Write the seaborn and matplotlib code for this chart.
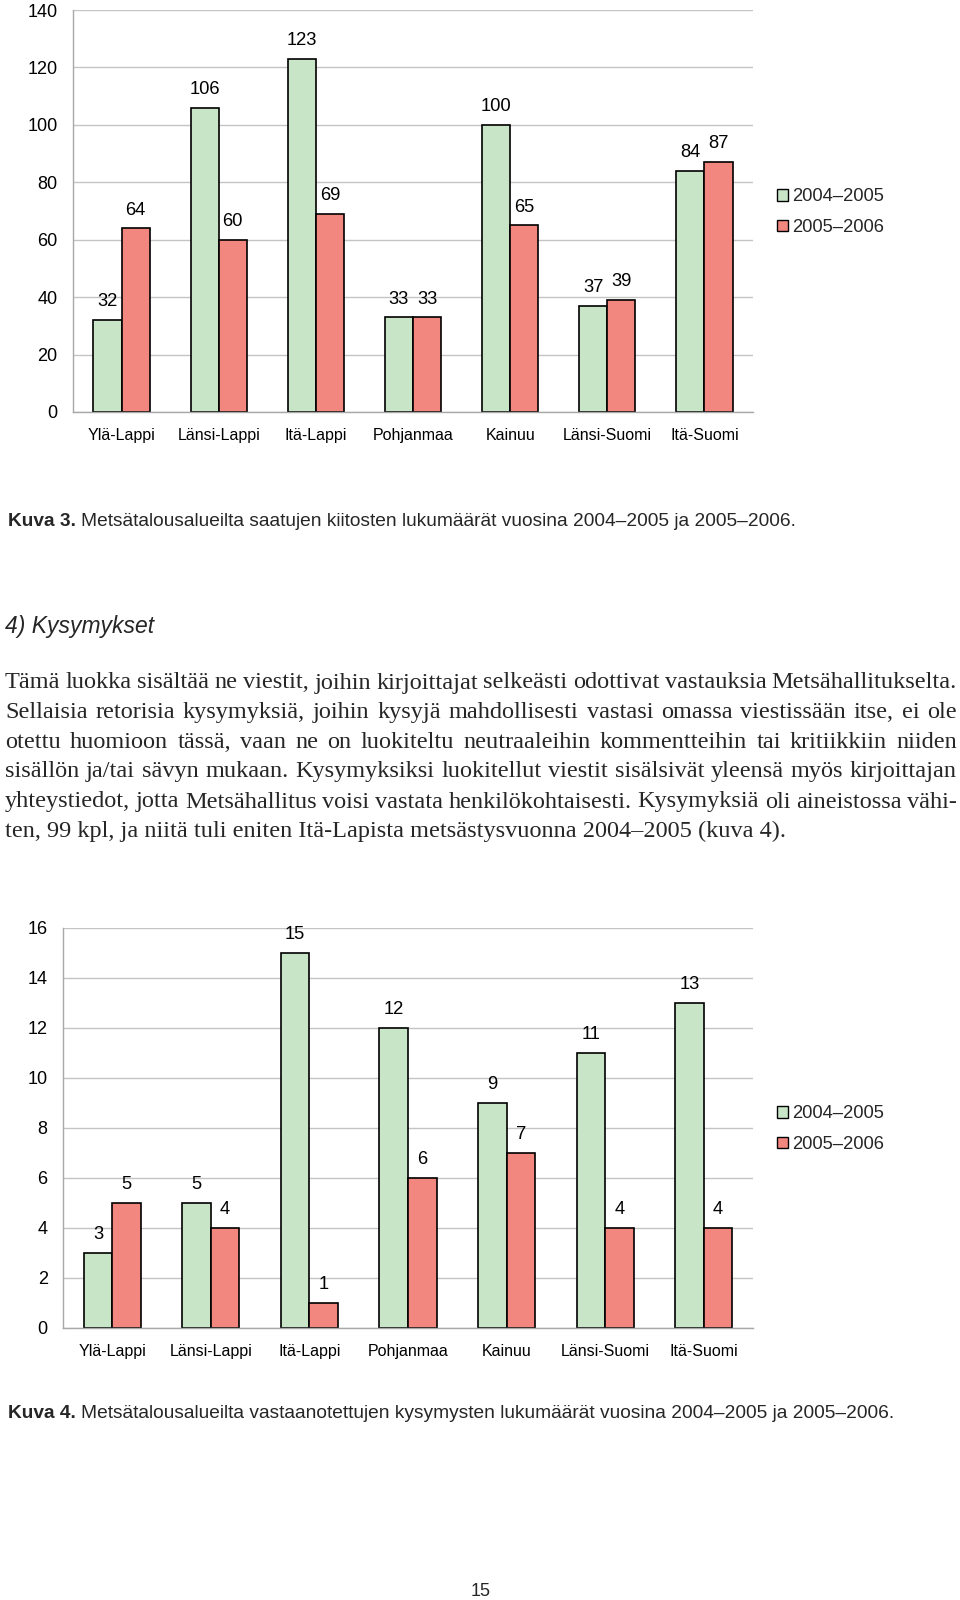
import matplotlib
matplotlib.use("Agg")
import matplotlib.pyplot as plt
import seaborn as sns
import pandas as pd
import numpy as np

# ---------------- data ----------------
regions = ["Ylä-Lappi", "Länsi-Lappi", "Itä-Lappi", "Pohjanmaa", "Kainuu", "Länsi-Suomi", "Itä-Suomi"]
periods = ["2004–2005", "2005–2006"]
thanks_2004_2005 = [32, 106, 123, 33, 100, 37, 84]
thanks_2005_2006 = [64, 60, 69, 33, 65, 39, 87]
questions_2004_2005 = [3, 5, 15, 12, 9, 11, 13]
questions_2005_2006 = [5, 4, 1, 6, 7, 4, 4]
thanks_ticks = [0, 20, 40, 60, 80, 100, 120, 140]
questions_ticks = [0, 2, 4, 6, 8, 10, 12, 14, 16]

caption3_bold = "Kuva 3."
caption3_text = "Metsätalousalueilta saatujen kiitosten lukumäärät vuosina 2004–2005 ja 2005–2006."
caption4_bold = "Kuva 4."
caption4_text = "Metsätalousalueilta vastaanotettujen kysymysten lukumäärät vuosina 2004–2005 ja 2005–2006."
heading = "4) Kysymykset"
paragraph_lines = [
    "Tämä luokka sisältää ne viestit, joihin kirjoittajat selkeästi odottivat vastauksia Metsähallitukselta.",
    "Sellaisia retorisia kysymyksiä, joihin kysyjä mahdollisesti vastasi omassa viestissään itse, ei ole",
    "otettu huomioon tässä, vaan ne on luokiteltu neutraaleihin kommentteihin tai kritiikkiin niiden",
    "sisällön ja/tai sävyn mukaan. Kysymyksiksi luokitellut viestit sisälsivät yleensä myös kirjoittajan",
    "yhteystiedot, jotta Metsähallitus voisi vastata henkilökohtaisesti. Kysymyksiä oli aineistossa vähi-",
    "ten, 99 kpl, ja niitä tuli eniten Itä-Lapista metsästysvuonna 2004–2005 (kuva 4).",
]
page_number = "15"

# ---------------- style ----------------
sns.set_style("white")
plt.rcParams["font.family"] = ["Liberation Sans", "DejaVu Sans"]

GREEN = "#c8e5c8"
RED = "#f2877f"
GRID = "#c4c4c4"
AXC = "#a8a8a8"

W, H = 960, 1600
fig = plt.figure(figsize=(W / 100, H / 100), dpi=100)


def px_axes(left, top, right, bottom):
    return fig.add_axes([left / W, 1 - bottom / H, (right - left) / W, (bottom - top) / H])


def draw_chart(ax, v1, v2, ticks, legend_y):
    df = pd.DataFrame({
        "region": regions * 2,
        "period": [periods[0]] * len(regions) + [periods[1]] * len(regions),
        "value": list(v1) + list(v2),
    })
    sns.barplot(data=df, x="region", y="value", hue="period", order=regions,
                hue_order=periods, palette=[GREEN, RED], edgecolor="black",
                linewidth=1.2, width=0.58, saturation=1, ax=ax, errorbar=None,
                legend=True)
    for cont in ax.containers:
        ax.bar_label(cont, fmt="%g", padding=7, fontsize=13.2, color="black")
    ax.set_ylim(ticks[0], ticks[-1])
    ax.set_xlim(-0.5, len(regions) - 0.5)
    ax.set_yticks(ticks)
    ax.set_yticklabels([str(t) for t in ticks], fontsize=13)
    ax.set_xlabel("")
    ax.set_ylabel("")
    ax.yaxis.grid(True, color=GRID, linewidth=1.0)
    ax.set_axisbelow(True)
    for s in ["top", "right"]:
        ax.spines[s].set_visible(False)
    for s in ["left", "bottom"]:
        ax.spines[s].set_color(AXC)
        ax.spines[s].set_linewidth(1.0)
    ax.tick_params(axis="y", length=4, width=1, color=AXC, pad=7, labelcolor="black")
    ax.set_xticks(range(len(regions)))
    ax.set_xticklabels(regions, fontsize=11.5)
    ax.tick_params(axis="x", which="major", length=0, pad=11.5, labelcolor="black")
    ax.set_xticks(np.arange(-0.5, len(regions), 1.0), minor=True)
    ax.tick_params(axis="x", which="minor", length=5, width=1, color=AXC)
    handles, labels = ax.get_legend_handles_labels()
    leg = ax.legend(handles, labels, loc="center left", bbox_to_anchor=(1.035, legend_y),
                    frameon=False, fontsize=13.2, handlelength=0.6, handleheight=0.6,
                    handletextpad=0.22, labelspacing=0.75, borderpad=0, borderaxespad=0)
    for h in leg.legend_handles:
        h.set_edgecolor("black")
        h.set_linewidth(1.0)


ax1 = px_axes(73, 10, 753, 412)
draw_chart(ax1, thanks_2004_2005, thanks_2005_2006, thanks_ticks, 0.497)

ax2 = px_axes(63, 928, 753, 1328)
draw_chart(ax2, questions_2004_2005, questions_2005_2006, questions_ticks, 0.497)

# ---------------- page text ----------------
renderer = fig.canvas.get_renderer()


def text_width(t):
    return t.get_window_extent(renderer=renderer).width


def caption(bold, rest, y):
    t = fig.text(8 / W, 1 - y / H, bold, fontsize=13.75, fontweight="bold", va="center", ha="left")
    w = text_width(t)
    fig.text((8 + w + 5) / W, 1 - y / H, rest, fontsize=13.75, va="center", ha="left")


caption(caption3_bold, caption3_text, 522)
caption(caption4_bold, caption4_text, 1413)

fig.text(5 / W, 1 - 626 / H, heading, fontsize=16.5, style="italic", va="center", ha="left")

serif = ["Liberation Serif", "DejaVu Serif"]
PFS = 17.5
line_y = [683, 713, 743, 772, 802, 831]
x0, x1 = 5, 957
for i, (line, y) in enumerate(zip(paragraph_lines, line_y)):
    if i == len(paragraph_lines) - 1:
        fig.text(x0 / W, 1 - y / H, line, fontsize=PFS, family=serif, va="center", ha="left")
        continue
    words = line.split(" ")
    objs = [fig.text(0, 1 - y / H, w, fontsize=PFS, family=serif, va="center", ha="left") for w in words]
    widths = [text_width(o) for o in objs]
    gap = (x1 - x0 - sum(widths)) / (len(words) - 1)
    x = x0
    for o, w in zip(objs, widths):
        o.set_x(x / W)
        x += w + gap

fig.text(481 / W, 1 - 1592 / H, page_number, fontsize=13, va="center", ha="center")

fig.savefig("out.png", dpi=100, facecolor="white")
